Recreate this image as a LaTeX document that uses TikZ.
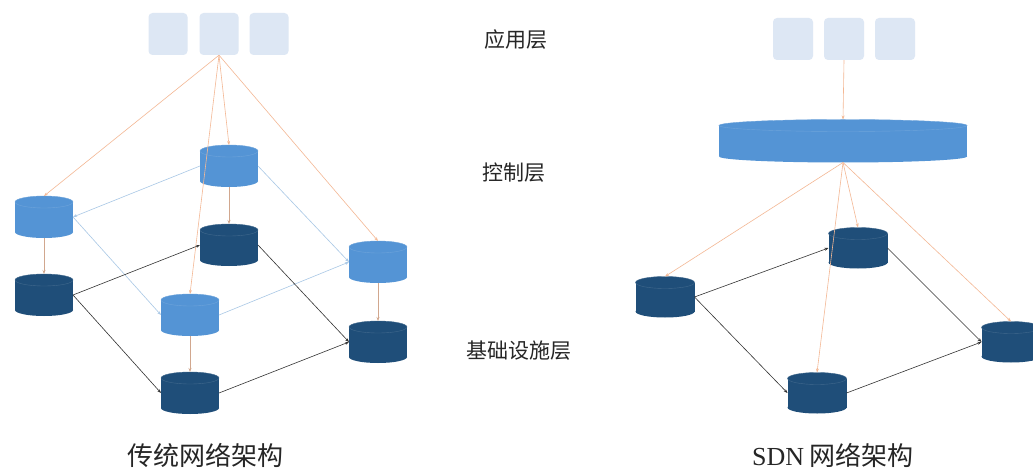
\documentclass[tikz,border=0pt]{standalone}
\usepackage{fontspec}
\newfontfamily\cjk{Noto Sans CJK SC}
\newfontfamily\latserif{Liberation Serif}
\usetikzlibrary{arrows.meta}
\definecolor{appc}{HTML}{DDE7F4}
\definecolor{ctlc}{HTML}{5494D5}
\definecolor{devc}{HTML}{1F4E79}
\definecolor{orl}{HTML}{F4B894}
\definecolor{bll}{HTML}{A9C8E6}
\definecolor{dkl}{HTML}{333333}
\newcommand\drawcyl[6]{%
  \node[inner sep=0pt,outer sep=0pt,minimum width=#4pt,minimum height=#5pt] (#1) at (#2,#3) {};
  \fill[#6] (#2,#3+#5/2-6) ellipse[x radius=#4/2, y radius=6];
  \fill[#6] (#2-#4/2,#3-#5/2+6) rectangle (#2+#4/2,#3+#5/2-6);
  \fill[#6] (#2,#3-#5/2+6) ellipse[x radius=#4/2, y radius=6];
  \draw[#6!85!white, line width=0.4pt] (#2,#3-#5/2+6) ellipse[x radius=#4/2, y radius=6];
}
\begin{document}
\begin{tikzpicture}[x=1pt,y=-1pt,
  appbox/.style={fill=appc,rounded corners=4pt,minimum width=39pt,minimum height=42pt,inner sep=0pt},
  arrtip/.style={-{Stealth[length=4pt,width=3pt]}},
  olink/.style={arrtip,draw=orl,line width=0.6pt},
  vlink/.style={arrtip,draw=orl!70!gray,line width=0.6pt},
  blink/.style={arrtip,draw=bll,line width=0.6pt},
  dlink/.style={arrtip,draw=dkl,line width=0.6pt},
  labtext/.style={font=\cjk\fontsize{21}{25}\selectfont,text=black!85,inner sep=0pt},
  captext/.style={font=\cjk\fontsize{26}{30}\selectfont,text=black!85,inner sep=0pt}]
\useasboundingbox (0,0) rectangle (1033,473);
\fill[white] (0,0) rectangle (1033,473);

% ---------- left: traditional ----------
\node[appbox] (A1) at (168,34) {};
\node[appbox] (A2) at (219,34) {};
\node[appbox] (A3) at (269,34) {};

\drawcyl{C1}{229}{166}{58}{42}{ctlc}
\drawcyl{C2}{44}{217}{58}{42}{ctlc}
\drawcyl{C3}{378}{262}{58}{42}{ctlc}
\drawcyl{C4}{190}{315}{58}{42}{ctlc}
\drawcyl{D1}{229}{245}{58}{42}{devc}
\drawcyl{D2}{44}{295}{58}{42}{devc}
\drawcyl{D3}{378}{342}{58}{42}{devc}
\drawcyl{D4}{190}{393}{58}{42}{devc}

\draw[olink] (A2.south) -- (C2.north);
\draw[olink] (A2.south) -- (C1.north);
\draw[olink] (A2.south) -- (C4.north);
\draw[olink] (A2.south) -- (C3.north);

\draw[vlink] (C1.south) -- (D1.north);
\draw[vlink] (C2.south) -- (D2.north);
\draw[vlink] (C3.south) -- (D3.north);
\draw[vlink] (C4.south) -- (D4.north);

\draw[blink] (C1.west) -- (C2.east);
\draw[blink] (C1.east) -- (C3.west);
\draw[blink] (C2.east) -- (C4.west);
\draw[blink] (C4.east) -- (C3.west);

\draw[dlink] (D2.east) -- (D1.west);
\draw[dlink] (D2.east) -- (D4.west);
\draw[dlink] (D1.east) -- (D3.west);
\draw[dlink] (D4.east) -- (D3.west);

\node[captext] (T1) at (205,455) {传统网络架构};

% ---------- middle labels ----------
\node[labtext] (L1) at (516,40) {应用层};
\node[labtext] (L2) at (514,173) {控制层};
\node[labtext] (L3) at (519,351) {基础设施层};

% ---------- right: SDN ----------
\node[appbox,minimum width=40pt] (B1) at (793,39) {};
\node[appbox,minimum width=40pt] (B2) at (844,39) {};
\node[appbox,minimum width=40pt] (B3) at (895,39) {};

\drawcyl{K}{843}{141}{248}{43}{ctlc}
\drawcyl{R1}{858}{248}{59}{41}{devc}
\drawcyl{R2}{665}{297}{59}{41}{devc}
\drawcyl{R3}{1011}{342}{59}{41}{devc}
\drawcyl{R4}{817}{393}{59}{41}{devc}

\draw[olink] (B2.south) -- (K.north);
\draw[olink] (K.south) -- (R2.north);
\draw[olink] (K.south) -- (R1.north);
\draw[olink] (K.south) -- (R4.north);
\draw[olink] (K.south) -- (R3.north);

\draw[dlink] (R2.east) -- (R1.west);
\draw[dlink] (R2.east) -- (R4.west);
\draw[dlink] (R1.east) -- (R3.west);
\draw[dlink] (R4.east) -- (R3.west);

\node[captext] (T2) at (833,455) {{\latserif SDN} 网络架构};
\end{tikzpicture}
\end{document}
